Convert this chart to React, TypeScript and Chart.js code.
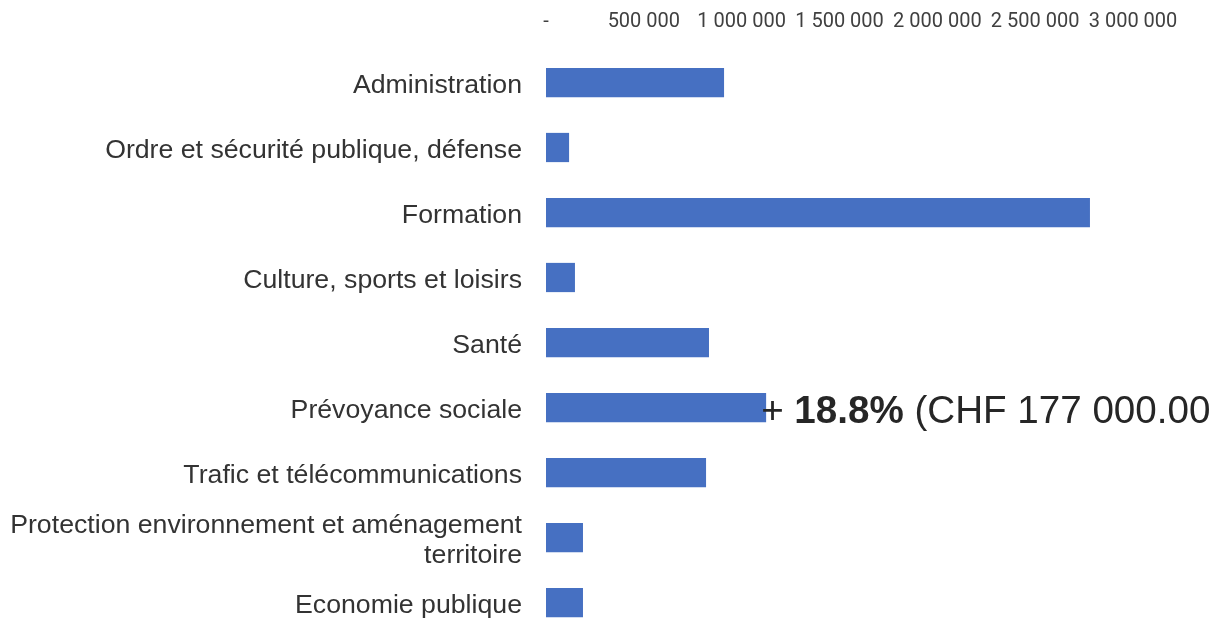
import React, { useEffect, useRef } from "react";
import { Chart, registerables } from "chart.js";

Chart.register(...registerables);

const categories: (string | string[])[] = [
  "Administration",
  "Ordre et sécurité publique, défense",
  "Formation",
  "Culture, sports et loisirs",
  "Santé",
  "Prévoyance sociale",
  "Trafic et télécommunications",
  ["Protection environnement et aménagement", "territoire"],
  "Economie publique",
];

const values: number[] = [910000, 118000, 2780000, 148000, 833000, 1125000, 818000, 189000, 189000];

const tickStep = 500000;
const tickMax = 3000000;

const annotationIndex = 5;
const annotationPrefix = "+ ";
const annotationBold = "18.8%";
const annotationRest = " (CHF 177 000.00";

const formatTick = (v: number) =>
  v === 0 ? "-" : Math.round(v).toString().replace(/\B(?=(\d{3})+(?!\d))/g, " ");

const annotationPlugin = {
  id: "annot",
  afterDatasetsDraw(chart: any) {
    const { ctx, scales } = chart;
    const x0 = scales.x.getPixelForValue(values[annotationIndex]) - 5;
    const y0 = scales.y.getPixelForValue(annotationIndex) + 5;
    ctx.save();
    ctx.textBaseline = "middle";
    ctx.textAlign = "left";
    ctx.fillStyle = "#262626";
    const reg = "38.6px 'Liberation Sans', Arial, sans-serif";
    const bold = "bold 38.6px 'Liberation Sans', Arial, sans-serif";
    let x = x0;
    ctx.font = reg;
    ctx.fillText(annotationPrefix, x, y0);
    x += ctx.measureText(annotationPrefix).width;
    ctx.font = bold;
    ctx.fillText(annotationBold, x, y0);
    x += ctx.measureText(annotationBold).width;
    ctx.font = reg;
    ctx.fillText(annotationRest, x, y0);
    ctx.restore();
  },
};

export default function App() {
  const ref = useRef<HTMLCanvasElement | null>(null);
  useEffect(() => {
    if (!ref.current) return;
    const chart = new Chart(ref.current, {
      type: "bar",
      data: {
        labels: categories,
        datasets: [
          {
            data: values,
            backgroundColor: "#4670c2",
            borderWidth: 0,
            barPercentage: 0.45,
            categoryPercentage: 1,
          },
        ],
      },
      options: {
        indexAxis: "y",
        animation: false,
        responsive: false,
        maintainAspectRatio: false,
        layout: { padding: { top: 11, right: 89, bottom: 5, left: 0 } },
        plugins: { legend: { display: false }, tooltip: { enabled: false } },
        scales: {
          x: {
            position: "top",
            min: 0,
            max: tickMax,
            grid: { display: false, drawTicks: false },
            border: { display: false },
            afterFit: (scale: any) => {
              scale.height = 39;
            },
            ticks: {
              stepSize: tickStep,
              padding: 17,
              color: "#404040",
              font: { family: "Roboto, 'Liberation Sans', sans-serif", size: 20, lineHeight: 1.14 },
              callback: (v: any) => formatTick(Number(v)),
              maxRotation: 0,
              autoSkip: false,
            },
          },
          y: {
            grid: { display: false, drawTicks: false },
            border: { display: false },
            afterFit: (scale: any) => {
              scale.width = 546;
              scale.paddingTop = 0;
              scale.paddingBottom = 0;
            },
            ticks: {
              padding: 24,
              labelOffset: 3,
              color: "#333333",
              font: { family: "'Liberation Sans', Arial, sans-serif", size: 26.7, lineHeight: 1.12 },
              autoSkip: false,
            },
          },
        },
      },
      plugins: [annotationPlugin],
    });
    return () => chart.destroy();
  }, []);
  return (
    <div
      style={{
        position: "fixed",
        left: 0,
        top: 0,
        width: 1222,
        height: 620,
        overflow: "hidden",
        background: "#ffffff",
      }}
    >
      <canvas ref={ref} width={1222} height={640} style={{ display: "block" }} />
    </div>
  );
}
